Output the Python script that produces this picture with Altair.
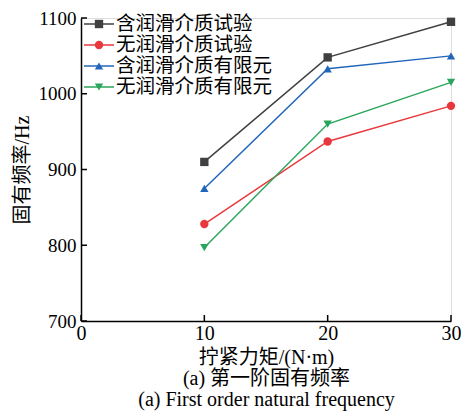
import altair as alt
import pandas as pd

torque = [10, 20, 30]
series_names = ["含润滑介质试验", "无润滑介质试验", "含润滑介质有限元", "无润滑介质有限元"]
freq_lub_test = [910, 1048, 1095]
freq_dry_test = [828, 937, 984]
freq_lub_fem = [875, 1033, 1050]
freq_dry_fem = [797, 960, 1015]
colors = ["#404040", "#e8383d", "#2266bb", "#2aa65c"]
shapes = ["square", "circle", "triangle-up", "triangle-down"]
x_ticks = [0, 10, 20, 30]
y_ticks = [700, 800, 900, 1000, 1100]

rows = []
for name, vals in zip(series_names, [freq_lub_test, freq_dry_test, freq_lub_fem, freq_dry_fem]):
    for t, v in zip(torque, vals):
        rows.append({"torque": t, "freq": v, "series": name})
df = pd.DataFrame(rows)
leg = pd.DataFrame({"series": series_names, "idx": list(range(len(series_names)))})

FONT = "Liberation Serif, Noto Sans CJK SC"
W, H = 370, 303

color = alt.Color("series:N", scale=alt.Scale(domain=series_names, range=colors), legend=None)
shape = alt.Shape("series:N", scale=alt.Scale(domain=series_names, range=shapes), legend=None)

xs = alt.Scale(domain=[0, 30], nice=False)
ys = alt.Scale(domain=[700, 1100], nice=False, zero=False)

x_axis = alt.Axis(values=x_ticks, format="d",
                  title=["拧紧力矩/(N·m)", "(a) 第一阶固有频率", "(a) First order natural frequency"],
                  grid=False, tickSize=0, labelPadding=2, labelFontSize=20, titleFontSize=20,
                  titleFontWeight="normal", titlePadding=4, titleLineHeight=21,
                  labelFont=FONT, titleFont=FONT, domainColor="#000", labelColor="#000", titleColor="#000",
                  domainWidth=1.5, labelFlush=False)
y_axis = alt.Axis(values=y_ticks, format="d", title="固有频率/Hz", grid=False, tickSize=0, labelPadding=5,
                  labelFontSize=19, titleFontSize=20, titleFontWeight="normal", titlePadding=6,
                  labelFont=FONT, titleFont=FONT, domainColor="#000", labelColor="#000", titleColor="#000",
                  domainWidth=1.5)

base = alt.Chart(df)
lines = base.mark_line(strokeWidth=1.5).encode(
    x=alt.X("torque:Q", scale=xs, axis=x_axis),
    y=alt.Y("freq:Q", scale=ys, axis=y_axis),
    color=color,
    detail="series:N",
)
points = base.mark_point(filled=True, opacity=1, size=70).encode(
    x=alt.X("torque:Q", scale=xs),
    y=alt.Y("freq:Q", scale=ys),
    color=color,
    shape=shape,
)

ytick_df = pd.DataFrame({"v": y_ticks})
xtick_df = pd.DataFrame({"v": x_ticks})
yticks = alt.Chart(ytick_df).mark_rule(color="#000", strokeWidth=1.5).encode(
    y=alt.Y("v:Q", scale=ys), x=alt.value(0), x2=alt.value(6))
xticks = alt.Chart(xtick_df).mark_rule(color="#000", strokeWidth=1.5).encode(
    x=alt.X("v:Q", scale=xs), y=alt.value(H), y2=alt.value(H - 6))

lbase = alt.Chart(leg).transform_calculate(py="6 + datum.idx * 21", x0="3", x1="33", xm="18", xt="35")
leg_lines = lbase.mark_rule(strokeWidth=1.5).encode(
    x=alt.X("x0:Q", scale=None, axis=None), x2="x1:Q",
    y=alt.Y("py:Q", scale=None, axis=None), color=color)
leg_pts = lbase.mark_point(filled=True, opacity=1, size=70).encode(
    x=alt.X("xm:Q", scale=None, axis=None), y=alt.Y("py:Q", scale=None, axis=None),
    color=color, shape=shape)
leg_txt = lbase.mark_text(align="left", baseline="middle", fontSize=19.5, font=FONT, color="#000").encode(
    x=alt.X("xt:Q", scale=None, axis=None), y=alt.Y("py:Q", scale=None, axis=None), text="series:N")

chart = alt.layer(lines, points, yticks, xticks, leg_lines, leg_pts, leg_txt).properties(
    width=W, height=H,
    autosize=alt.AutoSizeParams(type="none"),
    padding={"left": 73, "top": 10, "right": 10, "bottom": 91},
).configure_view(stroke=None).configure(background="#ffffff")

chart.save("out.html", embed_options={"renderer": "svg", "actions": False})
